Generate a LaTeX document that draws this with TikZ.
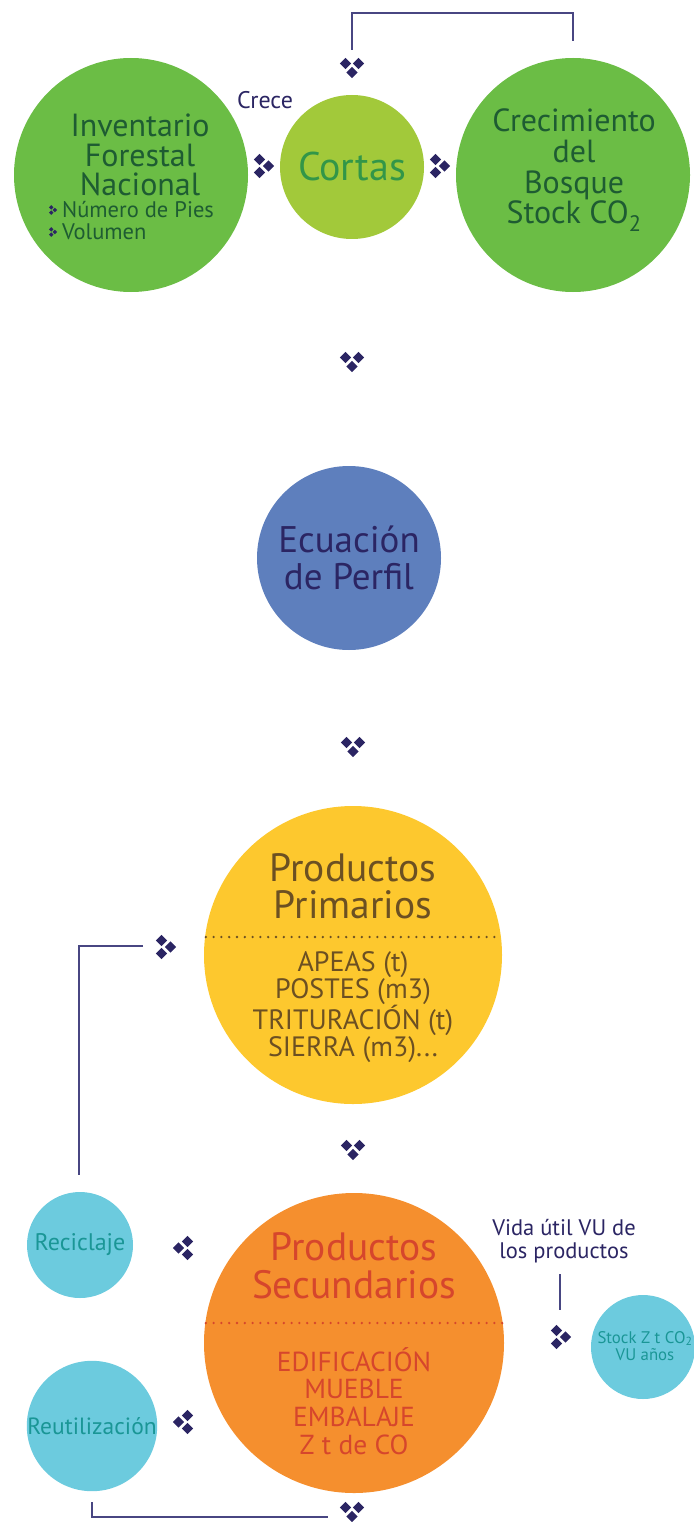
\documentclass[tikz,border=0pt]{standalone}
\usepackage{fontspec}
\setmainfont{PT Sans}
\usepackage{xcolor}
\usepackage{tikz}
\definecolor{leafgreen}{RGB}{107, 189, 69}
\definecolor{limegreen}{RGB}{162, 201, 58}
\definecolor{darkleaf}{RGB}{30, 92, 50}
\definecolor{cortasgreen}{RGB}{50, 150, 72}
\definecolor{perfilblue}{RGB}{94, 127, 189}
\definecolor{inkblue}{RGB}{43, 37, 99}
\definecolor{linkblue}{RGB}{72, 70, 130}
\definecolor{sunyellow}{RGB}{253, 200, 46}
\definecolor{barkbrown}{RGB}{108, 80, 34}
\definecolor{woodorange}{RGB}{245, 143, 46}
\definecolor{rustred}{RGB}{214, 70, 44}
\definecolor{skycyan}{RGB}{108, 203, 222}
\definecolor{tealtext}{RGB}{26, 150, 150}

\begin{document}
\begin{tikzpicture}[x=1pt, y=-1pt,
    blob/.style={circle, inner sep=0pt},
    link/.style={draw=linkblue, line width=1.3pt},
    dotrow/.style={line width=2.6pt, line cap=round, dash pattern=on 0pt off 7.8pt},
    tri/.pic={
        \foreach \dx/\dy in {-4.5/-6.5, -4.5/6.5, 4.5/0}
            \fill[inkblue] (\dx,\dy) +(0,-5.7) -- +(5.7,0) -- +(0,5.7) -- +(-5.7,0) -- cycle;
    }]
    \useasboundingbox (0,0) rectangle (693,1522);

    % Top row
    \node[blob, fill=leafgreen, minimum size=234pt] (inv) at (131,175) {};
    \node[align=center, text=darkleaf, font=\fontsize{32}{29.5}\selectfont] (invtitle) at (140,155) {Inventario\\Forestal\\Nacional};
    \node[anchor=west, inner sep=0pt, text=darkleaf, font=\fontsize{22.5}{21}\selectfont] (pies) at (62,210) {Número de Pies};
    \node[anchor=west, inner sep=0pt, text=darkleaf, font=\fontsize{22.5}{21}\selectfont] (vol) at (62,232) {Volumen};
    \pic[scale=0.4] at (53,210) {tri};
    \pic[scale=0.4] at (53,232) {tri};

    \node[blob, fill=limegreen, minimum size=144pt, text=cortasgreen, font=\fontsize{40}{42}\selectfont] (cortas) at (352,167) {Cortas};
    \node[text=inkblue, font=\fontsize{24}{26}\selectfont] (crece) at (265,100) {Crece};

    \node[blob, fill=leafgreen, minimum size=234pt] (crec) at (573,175) {};
    \node[align=center, text=darkleaf, font=\fontsize{32}{30.7}\selectfont] (crectitle) at (574,170) {Crecimiento\\del\\Bosque\\Stock CO\textsubscript{2}};

    \pic at (264,166) {tri};
    \pic at (440,166) {tri};
    \pic[rotate=-90] at (352,68) {tri};

    % Loop back to Cortas
    \coordinate (cutup) at (352,50);
    \coordinate (topbar) at (460,13);
    \coordinate (crectop) at (573,41);
    \draw[link] (cutup) |- (topbar) -| (crectop);

    % Ecuacion de perfil
    \pic[rotate=-90] at (352,362) {tri};
    \node[blob, fill=perfilblue, minimum size=184pt, align=center, text=inkblue, font=\fontsize{37}{37}\selectfont] (perfil) at (349,558) {Ecuación\\de Perfil};
    \pic[rotate=-90] at (353,747) {tri};

    % Productos primarios
    \node[blob, fill=sunyellow, minimum size=298pt] (prim) at (353,955) {};
    \node[align=center, text=barkbrown, font=\fontsize{39.5}{37}\selectfont] (primtitle) at (353,886) {Productos\\Primarios};
    \draw[dotrow, barkbrown] ([xshift=2pt, yshift=18pt]prim.west) -- ([xshift=-2pt, yshift=18pt]prim.east);
    \node[align=center, text=barkbrown, font=\fontsize{28}{27}\selectfont] (primlist) at (353,1007) {APEAS (t)\\POSTES (m3)\\TRITURACIÓN (t)\\SIERRA (m3)...};
    \pic at (166,947) {tri};
    \pic[rotate=-90] at (353,1150) {tri};

    % Productos secundarios
    \node[blob, fill=woodorange, minimum size=300pt] (sec) at (354,1343) {};
    \node[align=center, text=rustred, font=\fontsize{39.5}{38}\selectfont] (sectitle) at (354,1266) {Productos\\Secundarios};
    \draw[dotrow, rustred] ([xshift=2pt, yshift=20pt]sec.west) -- ([xshift=-2pt, yshift=20pt]sec.east);
    \node[align=center, text=rustred, font=\fontsize{27.5}{27.7}\selectfont] (seclist) at (354,1401) {EDIFICACIÓN\\MUEBLE\\EMBALAJE\\Z t de CO};

    % Reciclaje / Reutilizacion
    \node[blob, fill=skycyan, minimum size=106pt, text=tealtext, font=\fontsize{24}{26}\selectfont] (recic) at (80,1245) {Reciclaje};
    \node[blob, fill=skycyan, minimum size=130pt, text=tealtext, font=\fontsize{23.5}{26}\selectfont] (reuti) at (92,1426) {Reutilización};
    \pic[rotate=180] at (183,1248) {tri};
    \pic[rotate=180] at (183,1422) {tri};

    \coordinate (recin) at (143,946);
    \coordinate (recout) at (79,1175);
    \draw[link] (recin) -| (recout);
    \coordinate (reuout) at (92,1502);
    \coordinate (secin) at (328,1517);
    \draw[link] (reuout) |- (secin);
    \pic[rotate=-90] at (352,1512) {tri};

    % Vida util / stock
    \node[align=center, text=inkblue, font=\fontsize{22.5}{22.5}\selectfont] (vida) at (564,1241) {Vida útil VU de\\los productos};
    \coordinate (vidatop) at (560,1274);
    \coordinate (vidabot) at (560,1310);
    \draw[link] (vidatop) -- (vidabot);
    \pic at (561,1337) {tri};
    \node[blob, fill=skycyan, minimum size=104pt] (stock) at (643,1347) {};
    \node[align=center, text=tealtext, font=\fontsize{16.8}{17.5}\selectfont] (stocktext) at (645,1346) {Stock Z t CO\textsubscript{2}\\VU años};
\end{tikzpicture}
\end{document}
